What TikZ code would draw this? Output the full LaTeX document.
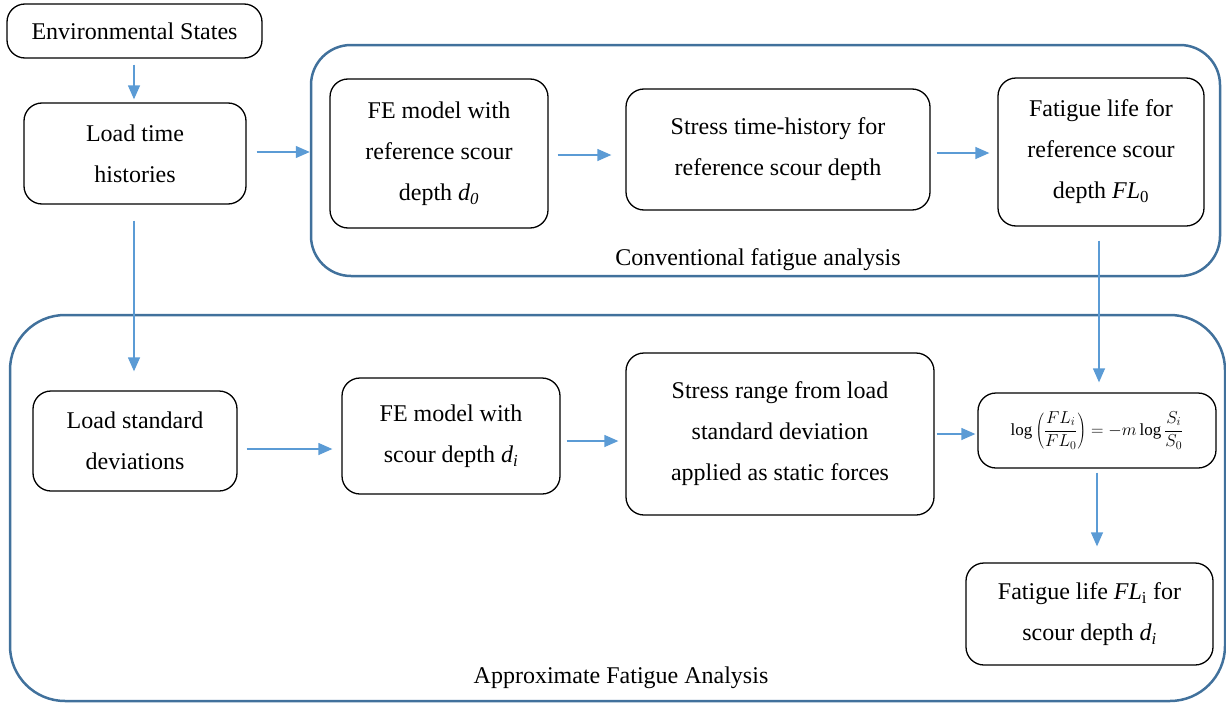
\documentclass[tikz,border=0pt]{standalone}
\usepackage{fontspec}
\setmainfont{Liberation Serif}
\usepackage{tikz}
\usetikzlibrary{arrows.meta,positioning}

\definecolor{flowblue}{HTML}{5B9BD5}
\definecolor{frameblue}{HTML}{41719C}
\newcommand{\bodyfont}{\fontsize{24}{41}\selectfont}

\begin{document}
\begin{tikzpicture}[x=1pt,y=-1pt]
			\useasboundingbox (0,0) rectangle (1226,704);

			% the two analysis frames
			\begin{scope}[every node/.style={draw=frameblue,line width=2.5pt,inner sep=0}]
				\node[rounded corners=40pt,minimum width=909pt,minimum height=231pt] (conv) at (765.5,160.5) {};
				\node[rounded corners=55pt,minimum width=1215pt,minimum height=386pt] (approx) at (617.5,508) {};
			\end{scope}
			\node[font=\bodyfont] (convlabel) at (758,260) {Conventional fatigue analysis};
			\node[font=\bodyfont] (approxlabel) at (621,678) {Approximate Fatigue Analysis};

			\begin{scope}[every node/.style={draw,line width=1.3pt,rounded corners=18pt,
				inner sep=0,align=center,font=\bodyfont}]
				\node[minimum width=255pt,minimum height=54pt] (env) at (134.5,31) {Environmental States};
				\node[minimum width=222pt,minimum height=101pt] (load) at (135,153.5) {Load time\\histories};
				\node[minimum width=218pt,minimum height=149pt] (fe0) at (439,153.5) {FE model with\\reference scour\\depth \textit{d}\textsubscript{\textit{0}}};
				\node[minimum width=304pt,minimum height=121pt] (stress0) at (778,149.5) {Stress time-history for\\reference scour depth};
				\node[minimum width=206pt,minimum height=148pt] (fl0) at (1101,152) {Fatigue life for\\reference scour\\depth \textit{FL}\textsubscript{0}};
				\node[minimum width=204pt,minimum height=100pt] (std) at (135,441) {Load standard\\deviations};
				\node[minimum width=218pt,minimum height=116pt] (fei) at (451,436) {FE model with\\scour depth \textit{d\textsubscript{i}}};
				\node[minimum width=308pt,minimum height=162pt] (stressi) at (780,434) {Stress range from load\\standard deviation\\applied as static forces};
				\node[minimum width=238pt,minimum height=75pt,font=\fontsize{17}{20}\selectfont] (eq) at (1097,430.5)
					{$\displaystyle\log\left(\frac{FL_i}{FL_0}\right)=-m\log\frac{S_i}{S_0}$};
				\node[minimum width=247pt,minimum height=102pt] (fli) at (1089.5,614) {Fatigue life \textit{FL}\textsubscript{i} for\\scour depth \textit{d\textsubscript{i}}};
			\end{scope}

			\begin{scope}[>={Triangle[length=14pt,width=12pt]},
				every edge/.style={draw=flowblue,line width=1.3pt}]
				\path[->, shorten <=6pt, shorten >=3pt] (env.south -| 134,0) edge (load.north -| 134,0);
				\path[->, shorten <=10pt] ([yshift=1.5pt]load.east) edge ([yshift=1.5pt]load.east -| conv.west);
				\path[->, shorten <=9pt, shorten >=14pt] ([yshift=-1.5pt]fe0.east) edge ([yshift=-1.5pt]fe0.east -| stress0.west);
				\path[->, shorten <=6pt, shorten >=8pt] ([yshift=-3.5pt]stress0.east) edge ([yshift=-3.5pt]stress0.east -| fl0.west);
				\path[->, shorten <=14pt, shorten >=10pt] ([xshift=-2pt]fl0.south) edge ([xshift=-2pt]fl0.south |- eq.north);
				\path[->, shorten <=16pt, shorten >=19pt] ([xshift=-1pt]load.south) edge ([xshift=-1pt]load.south |- std.north);
				\path[->, shorten <=9pt, shorten >=9pt] ([yshift=-8pt]std.east) edge ([yshift=-8pt]std.east -| fei.west);
				\path[->, shorten <=6pt, shorten >=7pt] ([yshift=-5pt]fei.east) edge ([yshift=-5pt]fei.east -| stressi.west);
				\path[->, shorten <=2pt, shorten >=2pt] (stressi.east) edge (stressi.east -| eq.west);
				\path[->, shorten <=4pt, shorten >=16pt] (eq.south) edge (eq.south |- fli.north);
			\end{scope}
		\end{tikzpicture}
\end{document}
